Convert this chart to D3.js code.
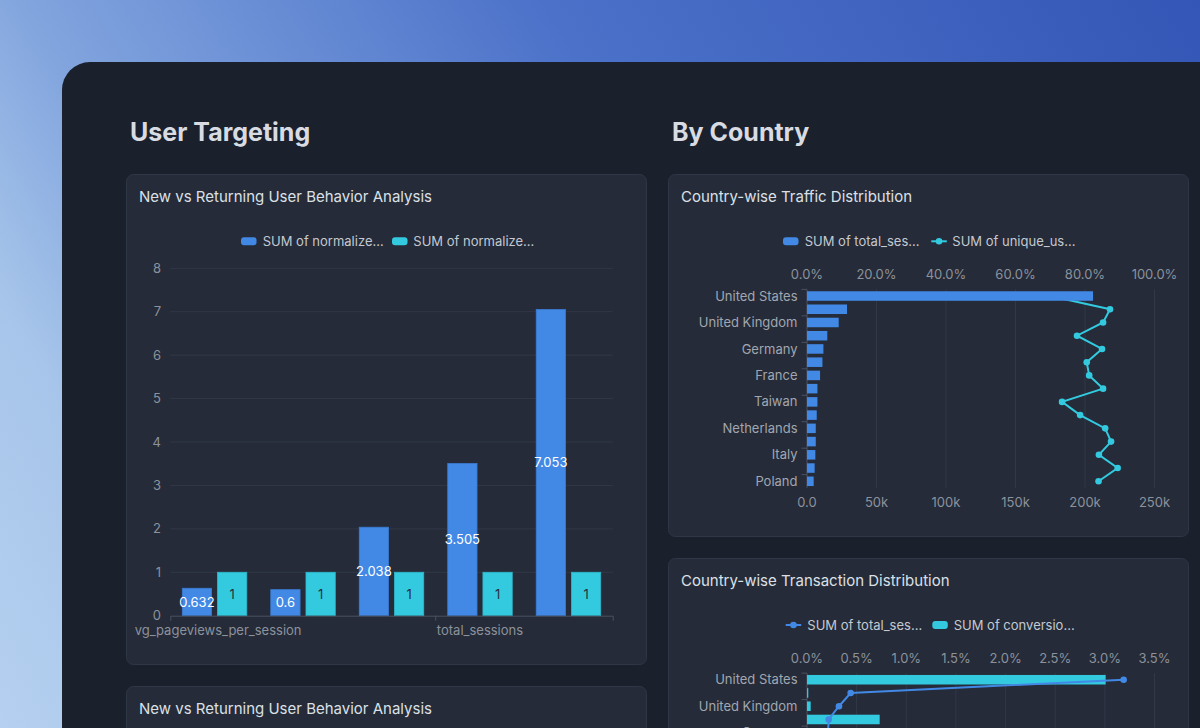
<!DOCTYPE html>
<html><head><meta charset="utf-8">
<script src="https://cdn.jsdelivr.net/npm/d3@7"></script>
<style>
html,body{margin:0;padding:0;overflow:hidden;background:#1b212c}
svg{display:block}
text{font-family:Inter,"Noto Sans",sans-serif}
</style>
</head><body>
<svg id="c" width="1200" height="728"></svg>
<script>
// ---------- data ----------
const metrics = ["avg_pageviews_per_session","avg_session_duration","bounce_rate","total_sessions","unique_users"];
const behaviorSeries = ["SUM of normalize...","SUM of normalize..."];
const newUserValues = [0.632, 0.6, 2.038, 3.505, 7.053];
const returningUserValues = [1, 1, 1, 1, 1];
const behaviorTicks = [0,1,2,3,4,5,6,7,8];

const countries = ["United States","India","United Kingdom","Canada","Germany","Japan","France","Brazil","Taiwan","Australia","Netherlands","Spain","Italy","Korea","Poland"];
const trafficSeries = ["SUM of total_ses...","SUM of unique_us..."];
const totalSessions = [205800, 28800, 22800, 14600, 11800, 11100, 9400, 7500, 7500, 7000, 6300, 6300, 6000, 5500, 4800];
const uniqueUserShare = [0.700, 0.872, 0.852, 0.777, 0.849, 0.805, 0.812, 0.852, 0.734, 0.786, 0.858, 0.875, 0.840, 0.894, 0.839];
const pctTicks = [0, 0.2, 0.4, 0.6, 0.8, 1.0];
const countTicks = [0, 50000, 100000, 150000, 200000, 250000];

const transactionSeries = ["SUM of total_ses...","SUM of conversio..."];
const txSessions = [227800, 31400, 23000, 15600, 15100];
const conversionRate = [0.03008, 0.00013, 0.00037, 0.00732];
const convTicks = [0, 0.005, 0.01, 0.015, 0.02, 0.025, 0.03, 0.035];

// ---------- style ----------
const BLUE = "#4289e6", CYAN = "#33cae0";
const GRID = "#313847", AXIS = "#4a5161", LABEL = "#8c929c", LEG = "#c4c9d1";

const svg = d3.select("#c");
const defs = svg.append("defs");
const bg = defs.append("linearGradient").attr("id","bg").attr("gradientUnits","userSpaceOnUse")
  .attr("x1",0).attr("y1",728).attr("x2",1200).attr("y2",0);
[[0,"#b5d0f0"],[0.16,"#a7c5ea"],[0.28,"#82a5de"],[0.6,"#4b71c9"],[1,"#3456b6"]]
  .forEach(([o,c])=>bg.append("stop").attr("offset",o).attr("stop-color",c));
defs.append("clipPath").attr("id","clipL").append("rect").attr("x",135).attr("y",174).attr("width",503).attr("height",490);

svg.append("rect").attr("width",1200).attr("height",728).attr("fill","url(#bg)");
svg.append("rect").attr("x",62).attr("y",62).attr("width",1200).attr("height",760).attr("rx",28).attr("fill","#1b212c");

// headings
svg.append("text").attr("x",130).attr("y",141).attr("font-size",25).attr("font-weight",700).attr("fill","#d8dce2").text("User Targeting");
svg.append("text").attr("x",672).attr("y",141).attr("font-size",25).attr("font-weight",700).attr("fill","#d8dce2").text("By Country");

// cards
const cards = [[126.5,174.5,520,490],[126.5,686.5,520,200],[668.5,174.5,520,362],[668.5,558.5,520,300]];
svg.selectAll("rect.card").data(cards).join("rect").attr("class","card")
  .attr("x",d=>d[0]).attr("y",d=>d[1]).attr("width",d=>d[2]).attr("height",d=>d[3])
  .attr("rx",7).attr("fill","#252b38").attr("stroke","#2f3645");
const titles = [[139,201.5,"New vs Returning User Behavior Analysis"],[139,713.5,"New vs Returning User Behavior Analysis"],
  [681,201.5,"Country-wise Traffic Distribution"],[681,585.5,"Country-wise Transaction Distribution"]];
titles.forEach(t=>svg.append("text").attr("x",t[0]).attr("y",t[1]).attr("font-size",15).attr("fill","#dce0e6").text(t[2]));

// legend helpers
function legRect(g,x,y,color){ g.append("rect").attr("x",x).attr("y",y-4).attr("width",15.5).attr("height",8).attr("rx",3).attr("fill",color); }
function legLine(g,x,y,color){ g.append("line").attr("x1",x).attr("x2",x+15.5).attr("y1",y).attr("y2",y).attr("stroke",color).attr("stroke-width",2);
  g.append("circle").attr("cx",x+7.75).attr("cy",y).attr("r",3.3).attr("fill",color); }
function legText(g,x,y,t){ g.append("text").attr("x",x).attr("y",y+4.6).attr("font-size",13).attr("fill",LEG).text(t); }

// ---------- Chart 1: grouped bars ----------
{
  const g = svg.append("g");
  const x0 = d3.scaleBand().domain(metrics).range([170.3, 612.7]);
  const bw = x0.bandwidth();
  const x1 = d3.scaleBand().domain([0,1]).range([0.1356*bw, 0.8644*bw]).paddingInner(0.168);
  const y = d3.scaleLinear().domain([0,8]).range([615.7, 268.3]);

  g.selectAll("line.grid").data(behaviorTicks.slice(1)).join("line")
    .attr("x1",170.3).attr("x2",612.7).attr("y1",d=>y(d)).attr("y2",d=>y(d)).attr("stroke",GRID);
  g.selectAll("text.yl").data(behaviorTicks).join("text")
    .attr("x",161).attr("y",d=>y(d)+4.6).attr("text-anchor","end").attr("font-size",13).attr("fill",LABEL).text(d=>d);

  const rows = metrics.map((m,i)=>({m, vals:[newUserValues[i], returningUserValues[i]]}));
  const cg = g.selectAll("g.cat").data(rows).join("g").attr("transform",d=>`translate(${x0(d.m)},0)`);
  cg.selectAll("rect").data(d=>d.vals.map((v,k)=>({v,k}))).join("rect")
    .attr("x",d=>x1(d.k)).attr("width",x1.bandwidth())
    .attr("y",d=>y(d.v)).attr("height",d=>y(0)-y(d.v))
    .attr("fill",d=>d.k===0?BLUE:CYAN).attr("stroke",d=>d.k===0?"#3a7bd3":"#2db8cc").attr("stroke-width",0.8);
  cg.selectAll("text").data(d=>d.vals.map((v,k)=>({v,k}))).join("text")
    .attr("x",d=>x1(d.k)+x1.bandwidth()/2).attr("y",d=>(y(d.v)+y(0))/2+4.6)
    .attr("text-anchor","middle").attr("font-size",13)
    .attr("fill",d=>d.k===0?"#ffffff":"#27303d").text(d=>d.v);

  const ax = g.append("g").attr("transform",`translate(0,${y(0)})`)
    .call(d3.axisBottom(x0).tickValues([]).tickSizeOuter(5));
  ax.select("path").attr("stroke",AXIS);
  g.append("line").attr("x1",x0(metrics[3])).attr("x2",x0(metrics[3])).attr("y1",y(0)).attr("y2",y(0)+5).attr("stroke",AXIS);
  const lg = g.append("g").attr("clip-path","url(#clipL)");
  lg.selectAll("text").data([metrics[0], metrics[3]]).join("text")
    .attr("x",d=>x0(d)+bw/2).attr("y",635).attr("text-anchor","middle").attr("font-size",13).attr("fill",LABEL).text(d=>d);

  legRect(g,241,241.3,BLUE); legText(g,262.7,241.3,behaviorSeries[0]);
  legRect(g,392,241.3,CYAN); legText(g,413.3,241.3,behaviorSeries[1]);
}

// ---------- Chart 2: traffic by country ----------
{
  const g = svg.append("g");
  const yB = d3.scaleBand().domain(countries).range([289.4, 487.9]);
  const bw = yB.bandwidth();
  const xCount = d3.scaleLinear().domain([0,250000]).range([807,1154.5]);
  const xPct = d3.scaleLinear().domain([0,1]).range([807,1154.5]);

  g.selectAll("line.grid").data(pctTicks.slice(1)).join("line")
    .attr("x1",d=>xPct(d)).attr("x2",d=>xPct(d)).attr("y1",289.4).attr("y2",487.9).attr("stroke",GRID);
  g.append("line").attr("x1",807).attr("x2",807).attr("y1",289.4).attr("y2",487.9).attr("stroke",AXIS);

  g.selectAll("text.top").data(pctTicks).join("text")
    .attr("x",d=>xPct(d)).attr("y",278.6).attr("text-anchor","middle").attr("font-size",13).attr("fill",LABEL).text(d3.format(".1%"));
  g.selectAll("text.bot").data(countTicks).join("text")
    .attr("x",d=>xCount(d)).attr("y",506.8).attr("text-anchor","middle").attr("font-size",13).attr("fill",LABEL)
    .text(d=>d===0?"0.0":(d/1000)+"k");

  const labeled = countries.filter((c,i)=>i%2===0);
  g.selectAll("line.tk").data(labeled).join("line")
    .attr("x1",801.5).attr("x2",807).attr("y1",d=>yB(d)).attr("y2",d=>yB(d)).attr("stroke",AXIS);
  g.selectAll("text.cl").data(labeled).join("text")
    .attr("x",797.5).attr("y",d=>yB(d)+bw/2+4.6).attr("text-anchor","end").attr("font-size",13).attr("fill","#a1a7b1").text(d=>d);

  const pts = countries.map((c,i)=>({c, v:uniqueUserShare[i]}));
  g.append("path").datum(pts).attr("fill","none").attr("stroke",CYAN).attr("stroke-width",2)
    .attr("d",d3.line().x(d=>xPct(d.v)).y(d=>yB(d.c)+bw/2));
  g.selectAll("circle").data(pts).join("circle").attr("cx",d=>xPct(d.v)).attr("cy",d=>yB(d.c)+bw/2).attr("r",3.3).attr("fill",CYAN);

  g.selectAll("rect.bar").data(countries.map((c,i)=>({c,v:totalSessions[i]}))).join("rect")
    .attr("x",xCount(0)).attr("y",d=>yB(d.c)+bw*0.14).attr("height",bw*0.72)
    .attr("width",d=>xCount(d.v)-xCount(0)).attr("fill",BLUE);

  legRect(g,783,241.3,BLUE); legText(g,804.7,241.3,trafficSeries[0]);
  legLine(g,931.3,241.3,CYAN); legText(g,952.3,241.3,trafficSeries[1]);
}

// ---------- Chart 3: transactions by country ----------
{
  const g = svg.append("g");
  const yB = d3.scaleBand().domain(countries).range([673.1, 673.1+15*13.25]);
  const bw = yB.bandwidth();
  const xConv = d3.scaleLinear().domain([0,0.035]).range([807,1154.5]);
  const xCount = d3.scaleLinear().domain([0,250000]).range([807,1154.5]);

  g.selectAll("line.grid").data(convTicks.slice(1)).join("line")
    .attr("x1",d=>xConv(d)).attr("x2",d=>xConv(d)).attr("y1",673.1).attr("y2",740).attr("stroke",GRID);
  g.append("line").attr("x1",807).attr("x2",807).attr("y1",673.1).attr("y2",740).attr("stroke",AXIS);
  g.selectAll("text.top").data(convTicks).join("text")
    .attr("x",d=>xConv(d)).attr("y",663).attr("text-anchor","middle").attr("font-size",13).attr("fill",LABEL).text(d3.format(".1%"));

  const labeled = countries.filter((c,i)=>i%2===0);
  g.selectAll("line.tk").data(labeled).join("line")
    .attr("x1",801.5).attr("x2",807).attr("y1",d=>yB(d)).attr("y2",d=>yB(d)).attr("stroke",AXIS);
  g.selectAll("text.cl").data(labeled).join("text")
    .attr("x",797.5).attr("y",d=>yB(d)+bw/2+4.6).attr("text-anchor","end").attr("font-size",13).attr("fill","#a1a7b1").text(d=>d);

  g.selectAll("rect.bar").data(conversionRate.map((v,i)=>({c:countries[i],v}))).join("rect")
    .attr("x",xConv(0)).attr("y",d=>yB(d.c)+bw*0.14).attr("height",bw*0.72)
    .attr("width",d=>xConv(d.v)-xConv(0)).attr("fill",CYAN);

  const pts = txSessions.map((v,i)=>({c:countries[i],v}));
  g.append("path").datum(pts).attr("fill","none").attr("stroke",BLUE).attr("stroke-width",2)
    .attr("d",d3.line().x(d=>xCount(d.v)).y(d=>yB(d.c)+bw/2));
  g.selectAll("circle").data(pts).join("circle").attr("cx",d=>xCount(d.v)).attr("cy",d=>yB(d.c)+bw/2).attr("r",3.3).attr("fill",BLUE);

  legLine(g,785.7,625,BLUE); legText(g,807.3,625,transactionSeries[0]);
  legRect(g,932.3,625,CYAN); legText(g,953.7,625,transactionSeries[1]);
}
</script>
</body></html>
